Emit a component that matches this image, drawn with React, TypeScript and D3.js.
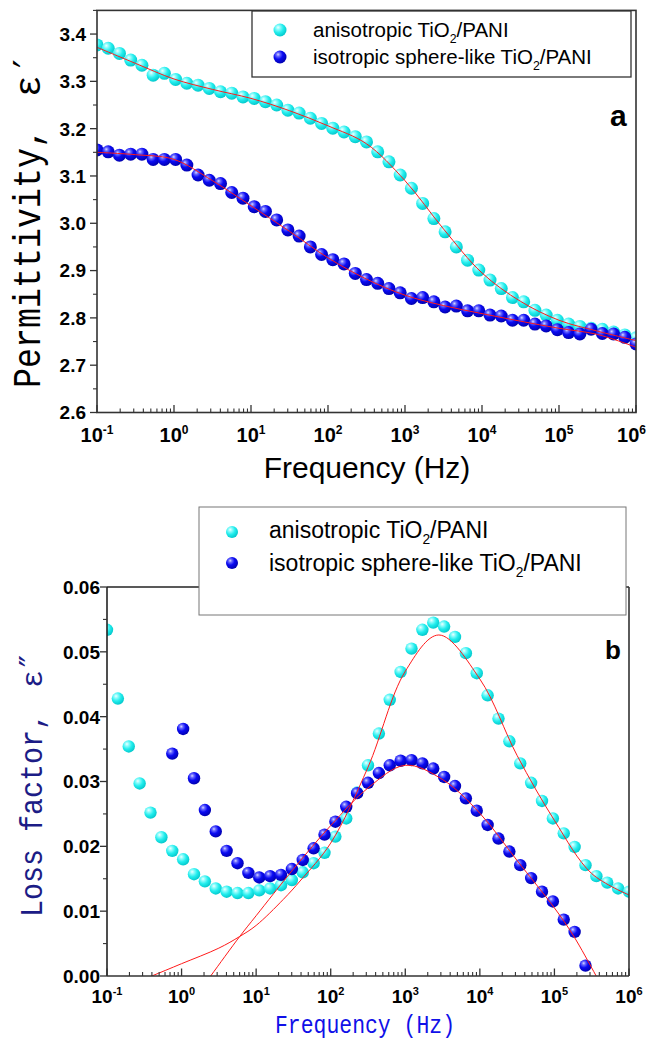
import React from 'react';
import * as d3 from 'd3';

// ---------- data ----------
const freqHz = [0.1, 0.13986, 0.19566, 0.27384, 0.38312, 0.536, 0.74989, 1.0491, 1.4678, 2.0535, 2.873, 4.0195, 5.6234, 7.8674, 11.007, 15.399, 21.544, 30.142, 42.17, 58.998, 82.54, 115.48, 161.56, 226.03, 316.23, 442.42, 618.97, 865.96, 1211.5, 1695.0, 2371.4, 3317.6, 4641.6, 6493.8, 9085.0, 12710, 17783, 24879, 34807, 48697, 68129, 95316, 133352, 186566, 261016, 365174, 510897, 714771, 1000000];

const permAniso = [3.377, 3.37, 3.359, 3.345, 3.334, 3.313, 3.317, 3.304, 3.296, 3.292, 3.285, 3.278, 3.275, 3.267, 3.264, 3.257, 3.25, 3.239, 3.233, 3.222, 3.211, 3.201, 3.193, 3.183, 3.172, 3.151, 3.13, 3.102, 3.074, 3.042, 3.01, 2.982, 2.95, 2.922, 2.901, 2.88, 2.862, 2.843, 2.834, 2.816, 2.806, 2.795, 2.787, 2.782, 2.778, 2.776, 2.77, 2.764, 2.758];
const permIso = [3.155, 3.151, 3.144, 3.146, 3.146, 3.135, 3.135, 3.135, 3.123, 3.102, 3.091, 3.084, 3.065, 3.053, 3.035, 3.025, 3.007, 2.986, 2.973, 2.95, 2.934, 2.923, 2.914, 2.894, 2.881, 2.873, 2.862, 2.853, 2.841, 2.843, 2.834, 2.823, 2.825, 2.815, 2.815, 2.806, 2.804, 2.795, 2.795, 2.787, 2.783, 2.775, 2.769, 2.766, 2.776, 2.767, 2.766, 2.759, 2.745];

const lossAniso = [0.0534, 0.0428, 0.0354, 0.0297, 0.0252, 0.0214, 0.0193, 0.018, 0.0157, 0.0146, 0.0135, 0.013, 0.0128, 0.0128, 0.0132, 0.0135, 0.014, 0.0148, 0.016, 0.0174, 0.019, 0.0215, 0.0243, 0.0283, 0.0325, 0.0374, 0.0426, 0.0469, 0.0505, 0.0534, 0.0545, 0.0539, 0.0523, 0.0498, 0.0467, 0.0433, 0.0397, 0.0362, 0.0328, 0.0298, 0.027, 0.0243, 0.022, 0.0199, 0.0171, 0.0154, 0.0144, 0.0135, 0.013];
const lossIso: (number | null)[] = [null, null, null, null, null, null, 0.0343, 0.0381, 0.0305, 0.0256, 0.0223, 0.0193, 0.0174, 0.0159, 0.0152, 0.0154, 0.0156, 0.0165, 0.0179, 0.0197, 0.0218, 0.0238, 0.0261, 0.0282, 0.0298, 0.0313, 0.0325, 0.0332, 0.0333, 0.0328, 0.032, 0.0307, 0.0293, 0.0274, 0.0255, 0.0233, 0.0212, 0.0192, 0.0171, 0.0151, 0.013, 0.0115, 0.0087, 0.0068, 0.0016, null, null, null, null];

// fitted curves (red lines)
const fitFreqPerm = [0.1, 0.3162, 1, 3.162, 10, 31.62, 100, 316.2, 1000, 3162, 10000, 31623, 100000, 316228, 1000000];
const fitPermAniso = [3.372, 3.338, 3.305, 3.283, 3.264, 3.238, 3.206, 3.168, 3.09, 2.988, 2.895, 2.835, 2.795, 2.772, 2.752];
const fitPermIso = [3.15, 3.145, 3.135, 3.09, 3.037, 2.983, 2.927, 2.882, 2.848, 2.826, 2.809, 2.793, 2.778, 2.765, 2.738];

const fitFreqLossAniso = [0.2512, 0.3981, 1, 3.162, 6.026, 10, 23.07, 39.81, 100, 316.2, 1000, 2818, 10000, 31623, 100000, 316228, 1000000];
const fitLossAniso = [-0.0009, 0, 0.0019, 0.0043, 0.0061, 0.0078, 0.0118, 0.0148, 0.0205, 0.0322, 0.047, 0.0526, 0.0458, 0.034, 0.024, 0.0158, 0.0125];
const fitFreqLossIso = [1.585, 2.455, 6.026, 10, 31.62, 100, 316.2, 1000, 3162, 10000, 31623, 100000, 177828, 363078, 501187];
const fitLossIso = [-0.003, 0, 0.0061, 0.0093, 0.0165, 0.0232, 0.029, 0.0325, 0.0303, 0.0251, 0.0178, 0.0105, 0.0063, 0, -0.003];

const decadeExps = [-1, 0, 1, 2, 3, 4, 5, 6];
const permTicks = [2.6, 2.7, 2.8, 2.9, 3.0, 3.1, 3.2, 3.3, 3.4];
const lossTicks = [0, 0.01, 0.02, 0.03, 0.04, 0.05, 0.06];

const seriesNames = ['anisotropic TiO', 'isotropic sphere-like TiO'];

// ---------- helpers ----------
const SANS = 'Liberation Sans, Arial, Helvetica, sans-serif';
const MONO = 'Liberation Mono, Courier New, monospace';
const PRIME = 'DejaVu Serif, Liberation Serif, serif';

type LinearScale = d3.ScaleLinear<number, number>;
type LogScale = d3.ScaleLogarithmic<number, number>;

function minorValues(): number[] {
  const out: number[] = [];
  for (let e = -1; e < 6; e++) for (let m = 2; m <= 9; m++) out.push(m * Math.pow(10, e));
  return out;
}

function XAxisLog({ x, y0, labelY, fs, sup, maxRight }: { x: LogScale; y0: number; labelY: number; fs: number; sup: number; maxRight: number }) {
  return (
    <g>
      {minorValues().map((v, i) => (
        <line key={'m' + i} x1={x(v)} x2={x(v)} y1={y0} y2={y0 - 4} stroke="#333" strokeWidth={1.1} />
      ))}
      {decadeExps.map((e) => {
        const px = x(Math.pow(10, e));
        const half = (fs * 1.112 + sup * 0.556 * String(e).length) / 2;
        const cx = Math.min(px, maxRight - half);
        return (
          <g key={e}>
            <line x1={px} x2={px} y1={y0} y2={y0 - 7.5} stroke="#333" strokeWidth={1.3} />
            <text x={cx} y={labelY} textAnchor="middle" fontFamily={SANS} fontWeight="bold" fontSize={fs} fill="#000">
              10<tspan dy={-fs * 0.42} fontSize={sup}>{e}</tspan>
            </text>
          </g>
        );
      })}
    </g>
  );
}

function YAxis({ y, x0, ticks, fmt, labelX, fs }: { y: LinearScale; x0: number; ticks: number[]; fmt: (v: number) => string; labelX: number; fs: number }) {
  const step = ticks[1] - ticks[0];
  const minors = ticks.map((t) => t + step / 2).filter((v) => y(v) >= Math.min(...y.range()) - 0.5);
  return (
    <g>
      {ticks.map((t) => (
        <g key={t}>
          <line x1={x0 - 7} x2={x0} y1={y(t)} y2={y(t)} stroke="#333" strokeWidth={1.3} />
          <text x={labelX} y={y(t)} dy="0.36em" textAnchor="end" fontFamily={SANS} fontWeight="bold" fontSize={fs} fill="#000">
            {fmt(t)}
          </text>
        </g>
      ))}
      {minors.map((m) => (
        <line key={'m' + m} x1={x0 - 4} x2={x0} y1={y(m)} y2={y(m)} stroke="#333" strokeWidth={1.1} />
      ))}
    </g>
  );
}

function Balls({ xs, ys, x, y, r, grad }: { xs: number[]; ys: (number | null)[]; x: LogScale; y: LinearScale; r: number; grad: string }) {
  return (
    <g>
      {xs.map((f, i) =>
        ys[i] == null ? null : <circle key={i} cx={x(f)} cy={y(ys[i] as number)} r={r} fill={`url(#${grad})`} />
      )}
    </g>
  );
}

function FitLine({ xs, ys, x, y }: { xs: number[]; ys: number[]; x: LogScale; y: LinearScale }) {
  const line = d3
    .line<number>()
    .x((f) => x(f))
    .y((_, i) => y(ys[i]))
    .curve(d3.curveCatmullRom.alpha(0.5));
  return <path d={line(xs) || ''} fill="none" stroke="#ff1a1a" strokeWidth={1} />;
}

function LegendLabel({ x, y, fs, name }: { x: number; y: number; fs: number; name: string }) {
  return (
    <text x={x} y={y} fontFamily={SANS} fontSize={fs} fill="#000">
      {name}
      <tspan dy={fs * 0.28} fontSize={fs * 0.6}>2</tspan>
      <tspan dy={-fs * 0.28}>/PANI</tspan>
    </text>
  );
}

export default function App() {
  // top chart (permittivity)
  const xT = d3.scaleLog().domain([0.1, 1e6]).range([97, 636]);
  const yT = d3.scaleLinear().domain([2.6, 3.45]).range([412.5, 10.4]);
  // bottom chart (loss factor)
  const xB = d3.scaleLog().domain([0.1, 1e6]).range([107, 629]);
  const yB = d3.scaleLinear().domain([0, 0.06]).range([976, 587]);

  const f1 = d3.format('.1f');
  const f2 = d3.format('.2f');

  return (
    <svg width={647} height={1047} viewBox="0 0 647 1047" style={{ position: 'absolute', left: 0, top: 0, background: '#fff' }}>
      <defs>
        <radialGradient id="gCyan" cx="0.38" cy="0.35" r="0.7" fx="0.35" fy="0.3">
          <stop offset="0" stopColor="#f0ffff" />
          <stop offset="0.22" stopColor="#8ffcfc" />
          <stop offset="0.55" stopColor="#22eded" />
          <stop offset="1" stopColor="#00c4c8" />
        </radialGradient>
        <radialGradient id="gBlue" cx="0.38" cy="0.35" r="0.7" fx="0.35" fy="0.3">
          <stop offset="0" stopColor="#d8d8ff" />
          <stop offset="0.2" stopColor="#6a6aff" />
          <stop offset="0.5" stopColor="#0a0af2" />
          <stop offset="1" stopColor="#0000a8" />
        </radialGradient>
        <clipPath id="clipT">
          <rect x={97} y={10.4} width={539} height={402.1} />
        </clipPath>
        <clipPath id="clipB">
          <rect x={107} y={587} width={522} height={389} />
        </clipPath>
      </defs>
      <rect x={0} y={0} width={647} height={1047} fill="#fff" />

      {/* ================= TOP CHART ================= */}
      <g clipPath="url(#clipT)">
        <Balls xs={freqHz} ys={permAniso} x={xT} y={yT} r={6.5} grad="gCyan" />
        <Balls xs={freqHz} ys={permIso} x={xT} y={yT} r={6.5} grad="gBlue" />
        <FitLine xs={fitFreqPerm} ys={fitPermAniso} x={xT} y={yT} />
        <FitLine xs={fitFreqPerm} ys={fitPermIso} x={xT} y={yT} />
      </g>
      <rect x={97} y={10.4} width={539} height={402.1} fill="none" stroke="#333" strokeWidth={1.6} />
      <XAxisLog x={xT} y0={412.5} labelY={442} fs={20} sup={12} maxRight={646} />
      <YAxis y={yT} x0={97} ticks={permTicks} fmt={f1} labelX={86} fs={19} />

      {/* legend top */}
      <rect x={252} y={11} width={379} height={66} fill="#fff" stroke="#333" strokeWidth={1.3} />
      <circle cx={280} cy={30} r={6.5} fill="url(#gCyan)" />
      <LegendLabel x={313} y={37} fs={20.5} name={seriesNames[0]} />
      <circle cx={280} cy={57} r={6.5} fill="url(#gBlue)" />
      <LegendLabel x={313} y={64} fs={20.5} name={seriesNames[1]} />

      <text x={610} y={126} fontFamily={SANS} fontWeight="bold" fontSize={30} fill="#000">a</text>

      <text x={367} y={478} textAnchor="middle" fontFamily={SANS} fontSize={30} fill="#000">Frequency (Hz)</text>

      <g transform="translate(40,388) rotate(-90)">
        <text x={0} y={0} fontFamily={MONO} fontSize={38} textLength={260} lengthAdjust="spacingAndGlyphs" fill="#000">Permittivity,</text>
      </g>
      <g transform="translate(40,97) rotate(-90)">
        <text x={0} y={0} fontFamily={MONO} fontSize={36} fill="#000">ε</text>
      </g>
      <g transform="translate(40,68) rotate(-90)">
        <text x={0} y={0} fontFamily={PRIME} fontSize={38} fill="#000">′</text>
      </g>

      {/* ================= BOTTOM CHART ================= */}
      <g clipPath="url(#clipB)">
        <Balls xs={freqHz} ys={lossAniso} x={xB} y={yB} r={6.2} grad="gCyan" />
        <Balls xs={freqHz} ys={lossIso} x={xB} y={yB} r={6.2} grad="gBlue" />
        <FitLine xs={fitFreqLossAniso} ys={fitLossAniso} x={xB} y={yB} />
        <FitLine xs={fitFreqLossIso} ys={fitLossIso} x={xB} y={yB} />
      </g>
      <line x1={107} x2={629} y1={587} y2={587} stroke="#222" strokeWidth={1.3} />
      <line x1={107} x2={107} y1={587} y2={976} stroke="#222" strokeWidth={1.6} />
      <line x1={629} x2={629} y1={587} y2={976} stroke="#333" strokeWidth={1.6} />
      <line x1={107} x2={629} y1={976} y2={976} stroke="#333" strokeWidth={1.6} />
      <XAxisLog x={xB} y0={976} labelY={1003} fs={19} sup={11} maxRight={646} />
      <YAxis y={yB} x0={107} ticks={lossTicks} fmt={f2} labelX={100} fs={19} />

      {/* legend bottom */}
      <rect x={199} y={507} width={427} height={108} fill="#fff" stroke="#777" strokeWidth={1} />
      <circle cx={232} cy={532} r={6} fill="url(#gCyan)" />
      <LegendLabel x={269} y={538} fs={23} name={seriesNames[0]} />
      <circle cx={232} cy={563} r={6} fill="url(#gBlue)" />
      <LegendLabel x={269} y={571} fs={23} name={seriesNames[1]} />

      <text x={605} y={659} fontFamily={SANS} fontWeight="bold" fontSize={26} fill="#000">b</text>

      <text x={275} y={1033} fontFamily={MONO} fontSize={26} textLength={180} lengthAdjust="spacingAndGlyphs" fill="#1010e8">Frequency (Hz)</text>

      <g transform="translate(42,917) rotate(-90)">
        <text x={0} y={0} fontFamily={MONO} fontSize={32} textLength={204} lengthAdjust="spacingAndGlyphs" fill="#1c1c86">Loss factor,</text>
      </g>
      <g transform="translate(42,688) rotate(-90)">
        <text x={0} y={0} fontFamily={MONO} fontSize={30} fill="#1c1c86">ε</text>
      </g>
      <g transform="translate(42,667) rotate(-90)">
        <text x={0} y={0} fontFamily={PRIME} fontSize={32} fill="#1c1c86">″</text>
      </g>
    </svg>
  );
}
